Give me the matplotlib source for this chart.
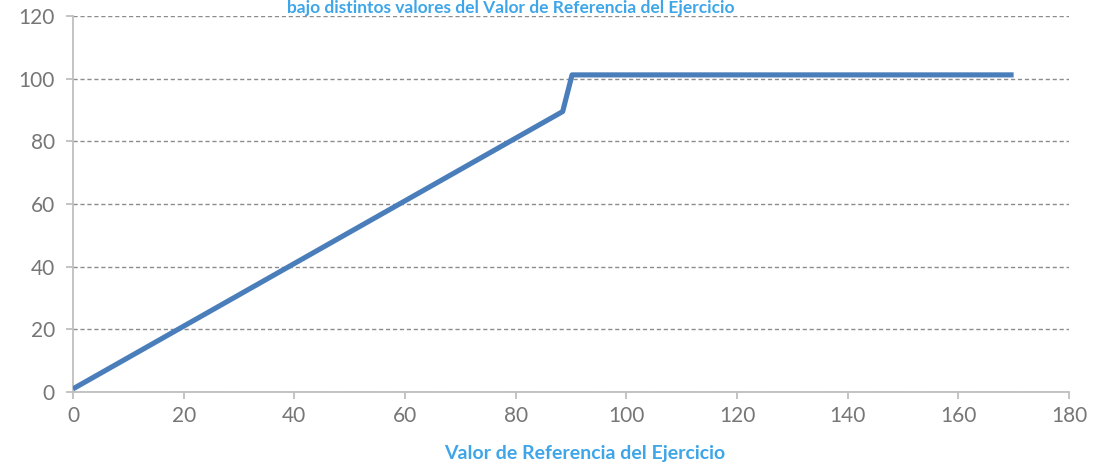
import numpy as np
import matplotlib
matplotlib.use("Agg")
import matplotlib.pyplot as plt

# --- data ---
valor_ref = [0, 88.5, 90.2, 170]
resultado = [1, 89.5, 101.2, 101.2]
x_ticks = [0, 20, 40, 60, 80, 100, 120, 140, 160, 180]
y_ticks = [0, 20, 40, 60, 80, 100, 120]

titulo = "bajo distintos valores del Valor de Referencia del Ejercicio"
x_label = "Valor de Referencia del Ejercicio"

BLUE_LINE = '#4a7ebb'
BLUE_TEXT = '#3ea6e8'
GRAY_TXT = '#767676'
GRAY_AX = '#bfbfbf'

plt.rcParams['font.family'] = ['Lato', 'DejaVu Sans']

fig = plt.figure(figsize=(10.94, 4.66), dpi=100, facecolor='white')
ax = fig.add_axes([0.0667, 0.1588, 0.9104, 0.8069])

ax.plot(valor_ref, resultado, color=BLUE_LINE, lw=3.7, solid_capstyle='butt',
        solid_joinstyle='round', zorder=3)

ax.set_xlim(0, 180)
ax.set_ylim(0, 120)
ax.set_xticks(x_ticks)
ax.set_yticks(y_ticks)
ax.grid(axis='y', color='#8c8c8c', ls=(0, (3, 2)), lw=1.0)
ax.set_axisbelow(True)

for s in ['top', 'right']:
    ax.spines[s].set_visible(False)
for s in ['left', 'bottom']:
    ax.spines[s].set_color(GRAY_AX)
    ax.spines[s].set_linewidth(1.3)

ax.tick_params(axis='both', colors=GRAY_AX, labelcolor=GRAY_TXT, labelsize=15,
               length=5, width=1.3, direction='out')
ax.tick_params(axis='x', pad=5)
ax.tick_params(axis='y', pad=8)

ax.set_xlabel(x_label, color=BLUE_TEXT, fontsize=14, fontweight='bold')
ax.xaxis.set_label_coords(0.514, -0.14)

# title sits at the very top edge, as in the source chart
fig.text(0.467, 0.999, titulo, color=BLUE_TEXT, fontsize=12.5, fontweight='bold',
         ha='center', va='top')

fig.savefig('out.png', dpi=100, facecolor='white')
